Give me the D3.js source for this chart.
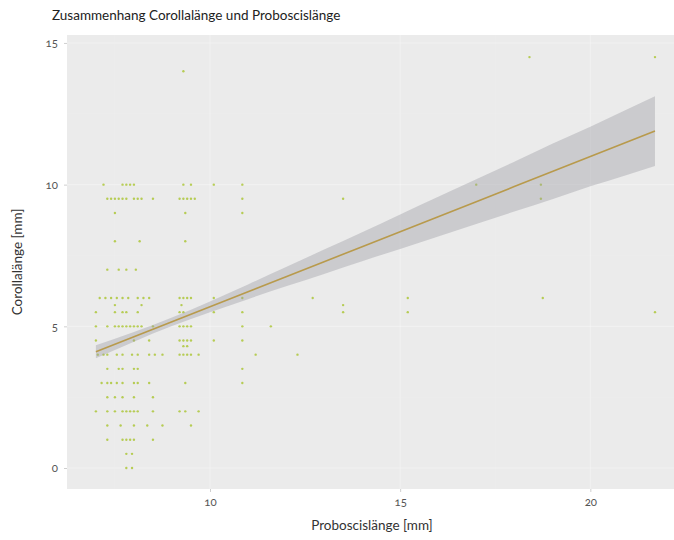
<!DOCTYPE html>
<html>
<head>
<meta charset="utf-8">
<script src="https://cdn.jsdelivr.net/npm/d3@7"></script>
<style>
  html, body { margin: 0; padding: 0; background: #ffffff; }
  svg text { font-family: "Lato", "Open Sans", sans-serif; }
</style>
</head>
<body>
<svg id="chart" width="674" height="540"></svg>
<script>
// Proboscis length (mm) and corolla length (mm), grouped by corolla row
const rowCorolla = [14.5, 14, 10, 9.5, 9, 8, 7, 6, 5.75, 5.5, 5, 4.5, 4.3, 4, 3.5, 3, 2.5, 2, 1.5, 1, 0.5, 0];
const rowProboscis = [
  [18.4, 21.7],
  [9.3],
  [7.2, 7.7, 7.8, 7.9, 8.0, 9.3, 9.5, 10.1, 10.85, 17.0, 18.7],
  [7.3, 7.4, 7.5, 7.6, 7.7, 7.8, 8.0, 8.1, 8.2, 8.5, 9.2, 9.3, 9.4, 9.5, 9.6, 10.85, 13.5, 18.7],
  [7.5, 9.35, 10.85],
  [7.5, 8.15, 9.35],
  [7.3, 7.6, 7.8, 8.05],
  [7.1, 7.25, 7.4, 7.55, 7.7, 7.85, 8.1, 8.25, 8.4, 9.2, 9.3, 9.4, 9.5, 10.1, 10.85, 12.7, 15.2, 18.75],
  [7.5, 8.2, 9.25, 13.5],
  [7.0, 7.5, 7.7, 7.8, 8.1, 9.2, 9.3, 10.1, 10.85, 13.5, 15.2, 21.7],
  [7.0, 7.3, 7.5, 7.6, 7.7, 7.8, 7.9, 8.0, 8.1, 8.2, 8.5, 9.2, 9.3, 9.4, 9.5, 10.85, 11.6],
  [7.0, 8.0, 8.4, 9.2, 9.3, 9.4, 9.5, 10.1, 10.85],
  [9.3, 9.4],
  [7.05, 7.2, 7.3, 7.55, 7.7, 7.95, 8.1, 8.4, 8.55, 8.75, 9.2, 9.3, 9.4, 9.5, 9.7, 11.2, 12.3],
  [7.3, 7.6, 7.7, 8.0, 8.1, 10.85],
  [7.15, 7.3, 7.4, 7.55, 7.7, 8.0, 8.1, 8.4, 9.35, 10.85],
  [7.3, 7.5, 7.7, 8.0, 8.5],
  [7.0, 7.3, 7.5, 7.7, 7.8, 7.9, 8.0, 8.1, 8.5, 9.2, 9.35, 9.7],
  [7.3, 7.65, 8.0, 8.35, 8.75, 9.5],
  [7.3, 7.7, 7.8, 7.9, 8.0, 8.5],
  [7.8, 7.95],
  [7.8, 7.95]
];

// Linear fit with its 95% confidence band
const fitX  = [7.0, 8.0, 9.0, 10.0, 11.0, 12.0, 13.0, 14.0, 15.0, 16.0, 17.0, 18.0, 19.0, 20.0, 21.0, 21.7];
const fitY  = [4.10, 4.63, 5.16, 5.69, 6.22, 6.75, 7.28, 7.81, 8.34, 8.87, 9.40, 9.93, 10.46, 10.99, 11.52, 11.89];
const fitLo = [3.87, 4.46, 5.01, 5.50, 5.96, 6.41, 6.85, 7.30, 7.73, 8.17, 8.61, 9.05, 9.48, 9.94, 10.36, 10.66];
const fitHi = [4.33, 4.80, 5.31, 5.88, 6.48, 7.09, 7.71, 8.32, 8.95, 9.57, 10.19, 10.81, 11.44, 12.04, 12.68, 13.12];

const xTicks = [10, 15, 20];
const yTicks = [0, 5, 10, 15];

const titleText = "Zusammenhang Corollalänge und Proboscislänge";
const xLabel = "Proboscislänge [mm]";
const yLabel = "Corollalänge [mm]";

const points = [];
rowCorolla.forEach((c, i) => rowProboscis[i].forEach(p => points.push({ p, c })));

const svg = d3.select("#chart");
const panel = { left: 67, top: 35, right: 674, bottom: 489 };

const x = d3.scaleLinear().domain([6.24, 22.2]).range([panel.left, panel.right]);
const y = d3.scaleLinear().domain([-0.74, 15.28]).range([panel.bottom, panel.top]);

// panel background
svg.append("rect")
  .attr("x", panel.left).attr("y", panel.top)
  .attr("width", panel.right - panel.left).attr("height", panel.bottom - panel.top)
  .attr("fill", "#ebebeb");

// grid
const grid = svg.append("g");
const minorX = [7.5, 12.5, 17.5];
const minorY = [2.5, 7.5, 12.5];
grid.selectAll(".gx").data(xTicks).join("line")
  .attr("x1", d => x(d)).attr("x2", d => x(d))
  .attr("y1", panel.top).attr("y2", panel.bottom)
  .attr("stroke", "#ffffff").attr("stroke-opacity", 0.3).attr("stroke-width", 1.1);
grid.selectAll(".gy").data(yTicks).join("line")
  .attr("y1", d => y(d)).attr("y2", d => y(d))
  .attr("x1", panel.left).attr("x2", panel.right)
  .attr("stroke", "#ffffff").attr("stroke-opacity", 0.3).attr("stroke-width", 1.1);
grid.selectAll(".mx").data(minorX).join("line")
  .attr("x1", d => x(d)).attr("x2", d => x(d))
  .attr("y1", panel.top).attr("y2", panel.bottom)
  .attr("stroke", "#ffffff").attr("stroke-opacity", 0.15).attr("stroke-width", 0.6);
grid.selectAll(".my").data(minorY).join("line")
  .attr("y1", d => y(d)).attr("y2", d => y(d))
  .attr("x1", panel.left).attr("x2", panel.right)
  .attr("stroke", "#ffffff").attr("stroke-opacity", 0.15).attr("stroke-width", 0.6);

// points
svg.append("g").selectAll("circle").data(points).join("circle")
  .attr("cx", d => x(d.p)).attr("cy", d => y(d.c))
  .attr("r", 1.2)
  .attr("fill", "#a4c222").attr("fill-opacity", 0.75);

// confidence band
const band = fitX.map((v, i) => ({ x: v, lo: fitLo[i], hi: fitHi[i], f: fitY[i] }));
svg.append("path").datum(band)
  .attr("d", d3.area().x(d => x(d.x)).y0(d => y(d.lo)).y1(d => y(d.hi)).curve(d3.curveMonotoneX))
  .attr("fill", "#9c9ca2").attr("fill-opacity", 0.4);

// fitted line
svg.append("path").datum(band)
  .attr("d", d3.line().x(d => x(d.x)).y(d => y(d.f)))
  .attr("fill", "none").attr("stroke", "#b89a4c").attr("stroke-width", 1.6);

// axes
const xAxis = svg.append("g").attr("transform", `translate(0,${panel.bottom})`)
  .call(d3.axisBottom(x).tickValues(xTicks).tickSize(3).tickPadding(6).tickFormat(d3.format("d")));
const yAxis = svg.append("g").attr("transform", `translate(${panel.left},0)`)
  .call(d3.axisLeft(y).tickValues(yTicks).tickSize(3).tickPadding(6).tickFormat(d3.format("d")));
[xAxis, yAxis].forEach(a => {
  a.select(".domain").remove();
  a.selectAll(".tick line").attr("stroke", "#cfcfcf");
  a.selectAll(".tick text")
    .attr("fill", "#555")
    .style("font-size", "11.5px")
    .style("font-family", "Lato, 'Open Sans', sans-serif")
    .style("font-variant-numeric", "oldstyle-nums");
});

// title and axis labels
svg.append("text").attr("x", 52).attr("y", 20)
  .attr("fill", "#222").style("font-size", "13.5px").text(titleText);
svg.append("text").attr("x", 372).attr("y", 530).attr("text-anchor", "middle")
  .attr("fill", "#333").style("font-size", "13.5px").text(xLabel);
svg.append("text").attr("transform", "translate(22,262) rotate(-90)").attr("text-anchor", "middle")
  .attr("fill", "#333").style("font-size", "13.5px").text(yLabel);
</script>
</body>
</html>
